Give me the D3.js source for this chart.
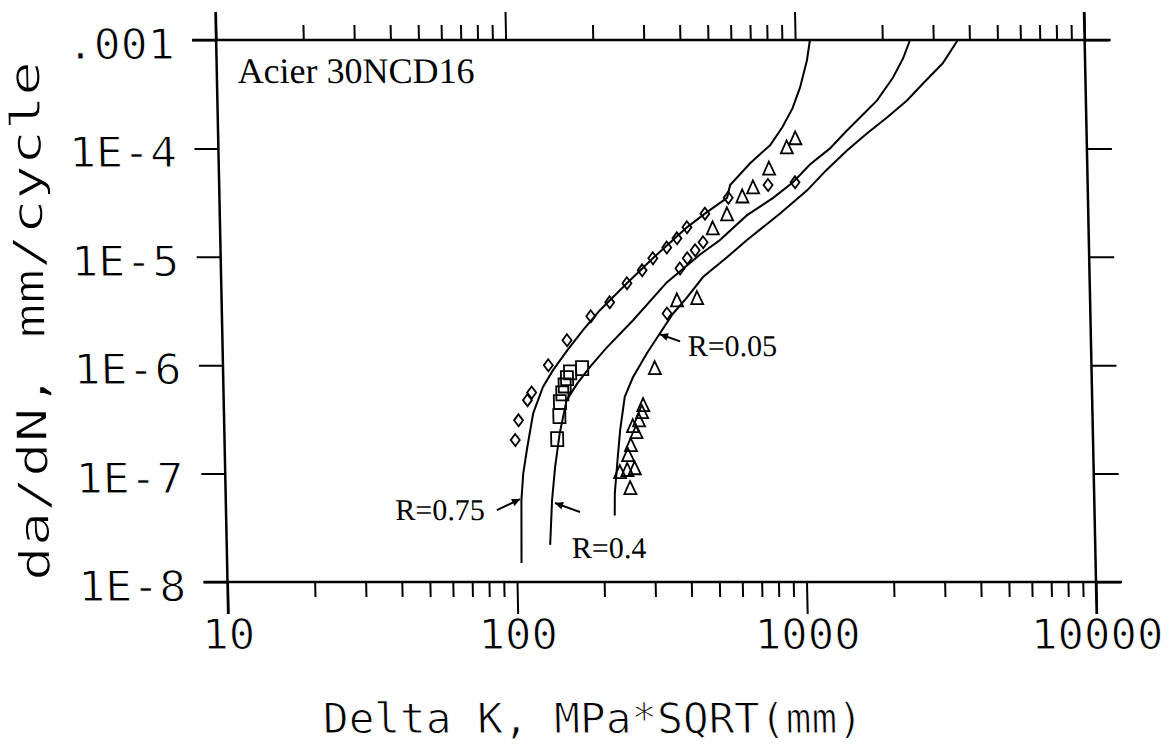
<!DOCTYPE html>
<meta charset="utf-8">
<head>
    <title>da/dN vs Delta K - Acier 30NCD16</title>
    <style>
        body { margin: 0; background: #fff; }
        /* plotter-like lettering: thin the mono glyphs with a white outline */
        .mono { font-family: "DejaVu Sans Mono", monospace; stroke: #fff; stroke-width: 1px; paint-order: fill; }
        .serif { font-family: "Liberation Serif", serif; }
    </style>
</head>
<body>
<script src="https://cdn.jsdelivr.net/npm/d3@7"></script>
<script>
    // fitted curves, [Delta K, da/dN]
    var curveR075 = [[104,1.5e-8],[105,5.7e-8],[107,1.0e-7],[111,1.75e-7],[117,3.6e-7],[127,6.3e-7],[138,9.0e-7],
        [155,1.37e-6],[176,2.1e-6],[202,3.2e-6],[252,5.7e-6],[311,9.7e-6],[410,1.87e-5],[474,2.5e-5],[567,3.5e-5],
        [582,4.6e-5],[685,7.3e-5],[805,1.07e-4],[889,1.56e-4],[968,2.34e-4],[1032,3.65e-4],[1095,6.5e-4],[1125,1e-3]];
    var curveR04 = [[131,2.2e-8],[134,5.7e-8],[138,1.15e-7],[144,2.36e-7],[153,4.76e-7],[167,6.8e-7],[185,9.6e-7],
        [211,1.43e-6],[263,2.6e-6],[346,5.8e-6],[453,1.05e-5],[531,1.42e-5],[661,2.41e-5],[818,3.5e-5],[960,4.86e-5],
        [1102,7.1e-5],[1296,1.0e-4],[1464,1.4e-4],[1654,1.93e-4],[1900,2.77e-4],[2165,4.5e-4],[2355,6.8e-4],[2494,1e-3]];
    var curveR005 = [[220,4.1e-8],[221,6.6e-8],[227,1.33e-7],[233,2.52e-7],[243,5.1e-7],[260,7.7e-7],[292,1.29e-6],
        [325,1.97e-6],[362,3.0e-6],[405,4.2e-6],[462,6.5e-6],[561,9.9e-6],[658,1.42e-5],[860,2.5e-5],[1073,4.1e-5],
        [1254,6.3e-5],[1486,9.6e-5],[1742,1.37e-4],[2050,1.93e-4],[2410,2.77e-4],[2746,3.97e-4],[3223,6.1e-4],[3647,1e-3]];

    // measured points
    var diamonds = [[101,2.04e-7],[104,3.1e-7],[112,4.76e-7],[116,5.6e-7],[133,1.0e-6],[155,1.7e-6],[188,2.83e-6],
        [219,3.8e-6],[252,5.7e-6],[285,7.5e-6],[311,9.7e-6],[348,1.22e-5],[378,1.48e-5],[410,1.87e-5],[474,2.5e-5],
        [572,3.5e-5],[787,4.6e-5],[976,4.86e-5],[385,7.8e-6],[409,9.7e-6],[436,1.15e-5],[465,1.36e-5],[345,3.0e-6]];
    var squares = [[141,2.08e-7],[144,3.39e-7],[145,4.56e-7],[148,5.5e-7],[151,6.5e-7],[154,7.6e-7],[158,8.6e-7],[174,9.4e-7]];
    var triangles = [[250,7.35e-8],[231,1.03e-7],[245,1.08e-7],[260,1.12e-7],[247,1.48e-7],[253,1.83e-7],[265,2.41e-7],
        [258,2.74e-7],[271,3.1e-7],[278,3.69e-7],[281,4.28e-7],[310,9.4e-7],[374,3.97e-6],[439,4.15e-6],[503,1.83e-5],
        [565,2.46e-5],[640,3.6e-5],[698,4.37e-5],[795,6.5e-5],[919,1.02e-4],[985,1.24e-4]];

    // axes
    var xMajor = [10, 100, 1000, 10000];
    var xTickLabels = ["10", "100", "1000", "10000"];
    var yMajor = [1e-8, 1e-7, 1e-6, 1e-5, 1e-4, 1e-3];
    var yTickLabels = ["1E-8", "1E-7", "1E-6", "1E-5", "1E-4", ".001"];

    // annotations
    var rLabels = ["R=0.75", "R=0.4", "R=0.05"];
    var rLabelPos = [[78.3, 3.73e-8], [155.5, 1.66e-8], [404.5, 1.21e-6]];
    var rLabelAnchor = ["end", "start", "start"];
    var arrowTail = [[86.3, 4.61e-8], [167, 4.42e-8], [381, 1.66e-6]];
    var arrowHead = [[103.8, 5.82e-8], [137.1, 5.35e-8], [325, 1.93e-6]];

    var W = 1169, H = 753;
    var pLeft = 227.5, pRight = 1096, pTop = 40, pBottom = 582;
    var shear = 0.021;   // the scan leans a little

    var x = d3.scaleLog().domain([10, 10000]).range([pLeft, pRight]);
    var y = d3.scaleLog().domain([1e-8, 1e-3]).range([pBottom, pTop]);

    var svg = d3.select("body").append("svg")
        .attr("width", W).attr("height", H)
        .style("display", "block");

    svg.append("defs").append("marker")
        .attr("id", "arr")
        .attr("markerUnits", "userSpaceOnUse")
        .attr("viewBox", "0 0 10 10")
        .attr("refX", 10).attr("refY", 5)
        .attr("markerWidth", 10).attr("markerHeight", 8)
        .attr("orient", "auto")
        .append("path").attr("d", "M0,0 L10,5 L0,10 Z").attr("fill", "#000");

    var g = svg.append("g")
        .attr("transform", "translate(" + (-shear * pBottom) + ",0) skewX(" + (Math.atan(shear) * 180 / Math.PI) + ")");

    // frame
    g.append("line").attr("x1", pLeft - 24).attr("x2", pRight + 26).attr("y1", pTop).attr("y2", pTop)
        .attr("stroke", "#000").attr("stroke-width", 2.5);
    g.append("line").attr("x1", pLeft - 24).attr("x2", pRight + 26).attr("y1", pBottom).attr("y2", pBottom)
        .attr("stroke", "#000").attr("stroke-width", 2.5);
    g.append("line").attr("x1", pLeft).attr("x2", pLeft).attr("y1", 12).attr("y2", 614)
        .attr("stroke", "#000").attr("stroke-width", 2.5);
    g.append("line").attr("x1", pRight).attr("x2", pRight).attr("y1", 12).attr("y2", 614)
        .attr("stroke", "#000").attr("stroke-width", 2.5);

    var xMinor = x.ticks().filter(d => xMajor.indexOf(d) < 0);

    function tidy(sel) {
        sel.select(".domain").remove();
        sel.selectAll("line").attr("stroke-width", 2);
    }
    g.append("g").attr("transform", "translate(0," + pBottom + ")")
        .call(d3.axisBottom(x).tickValues(xMinor).tickSize(15).tickFormat("")).call(tidy);
    g.append("g").attr("transform", "translate(0," + pBottom + ")")
        .call(d3.axisBottom(x).tickValues(xMajor).tickSize(32).tickFormat("")).call(tidy);
    g.append("g").attr("transform", "translate(0," + pTop + ")")
        .call(d3.axisTop(x).tickValues(xMinor).tickSize(15).tickFormat("")).call(tidy);
    g.append("g").attr("transform", "translate(0," + pTop + ")")
        .call(d3.axisTop(x).tickValues(xMajor).tickSize(28).tickFormat("")).call(tidy);
    g.append("g").attr("transform", "translate(" + pLeft + ",0)")
        .call(d3.axisLeft(y).tickValues(yMajor).tickSize(24).tickFormat("")).call(tidy);
    g.append("g").attr("transform", "translate(" + pRight + ",0)")
        .call(d3.axisRight(y).tickValues(yMajor).tickSize(25).tickFormat("")).call(tidy);

    // tick labels
    g.selectAll(".xlab").data(xMajor).enter().append("text")
        .attr("class", "mono")
        .attr("x", d => x(d)).attr("y", 649)
        .attr("text-anchor", "middle")
        .attr("font-size", 42)
        .attr("textLength", (d, i) => xTickLabels[i].length * 26.5)
        .attr("lengthAdjust", "spacingAndGlyphs")
        .text((d, i) => xTickLabels[i]);

    g.selectAll(".ylab").data(yMajor).enter().append("text")
        .attr("class", "mono")
        .attr("x", 186).attr("y", d => y(d) + 19)
        .attr("text-anchor", "end")
        .attr("font-size", 42)
        .attr("textLength", (d, i) => yTickLabels[i].length * 27)
        .attr("lengthAdjust", "spacingAndGlyphs")
        .text((d, i) => yTickLabels[i]);

    // axis titles
    g.append("text").attr("class", "mono")
        .attr("x", 590).attr("y", 733)
        .attr("text-anchor", "middle")
        .attr("font-size", 42)
        .attr("textLength", 540)
        .attr("lengthAdjust", "spacingAndGlyphs")
        .text("Delta K, MPa*SQRT(mm)");

    g.append("text").attr("class", "mono")
        .attr("transform", "translate(50,321) rotate(-90)")
        .attr("text-anchor", "middle")
        .attr("font-size", 42)
        .attr("textLength", 520)
        .attr("lengthAdjust", "spacingAndGlyphs")
        .text("da/dN, mm/cycle");

    // curves
    var line = d3.line().x(d => x(d[0])).y(d => y(d[1]));
    [curveR075, curveR04, curveR005].forEach(function(c) {
        g.append("path").datum(c)
            .attr("d", line)
            .attr("fill", "none")
            .attr("stroke", "#000")
            .attr("stroke-width", 2);
    });

    // markers
    function diamondPath(d) {
        var cx = x(d[0]), cy = y(d[1]);
        return "M" + cx + "," + (cy - 6) + "L" + (cx + 4.5) + "," + cy + "L" + cx + "," + (cy + 6) + "L" + (cx - 4.5) + "," + cy + "Z";
    }
    function squarePath(d) {
        var cx = x(d[0]), cy = y(d[1]);
        return "M" + (cx - 6) + "," + (cy - 7) + "h12v14h-12Z";
    }
    function trianglePath(d) {
        var cx = x(d[0]), cy = y(d[1]);
        return "M" + cx + "," + (cy - 7) + "L" + (cx + 6) + "," + (cy + 6) + "L" + (cx - 6) + "," + (cy + 6) + "Z";
    }
    g.selectAll(".dia").data(diamonds).enter().append("path")
        .attr("d", diamondPath).attr("fill", "none").attr("stroke", "#000").attr("stroke-width", 1.8);
    g.selectAll(".sq").data(squares).enter().append("path")
        .attr("d", squarePath).attr("fill", "none").attr("stroke", "#000").attr("stroke-width", 1.8);
    g.selectAll(".tri").data(triangles).enter().append("path")
        .attr("d", trianglePath).attr("fill", "none").attr("stroke", "#000").attr("stroke-width", 1.8);

    // annotations
    g.append("text").attr("class", "serif")
        .attr("x", x(11.8)).attr("y", y(3.97e-4))
        .attr("font-size", 36)
        .text("Acier 30NCD16");

    g.selectAll(".rlab").data(rLabels).enter().append("text")
        .attr("class", "serif")
        .attr("x", (d, i) => x(rLabelPos[i][0])).attr("y", (d, i) => y(rLabelPos[i][1]))
        .attr("text-anchor", (d, i) => rLabelAnchor[i])
        .attr("font-size", 30)
        .text(d => d);

    g.selectAll(".arrow").data(arrowTail).enter().append("line")
        .attr("x1", d => x(d[0])).attr("y1", d => y(d[1]))
        .attr("x2", (d, i) => x(arrowHead[i][0])).attr("y2", (d, i) => y(arrowHead[i][1]))
        .attr("stroke", "#000").attr("stroke-width", 2)
        .attr("marker-end", "url(#arr)");
</script>
</body>
